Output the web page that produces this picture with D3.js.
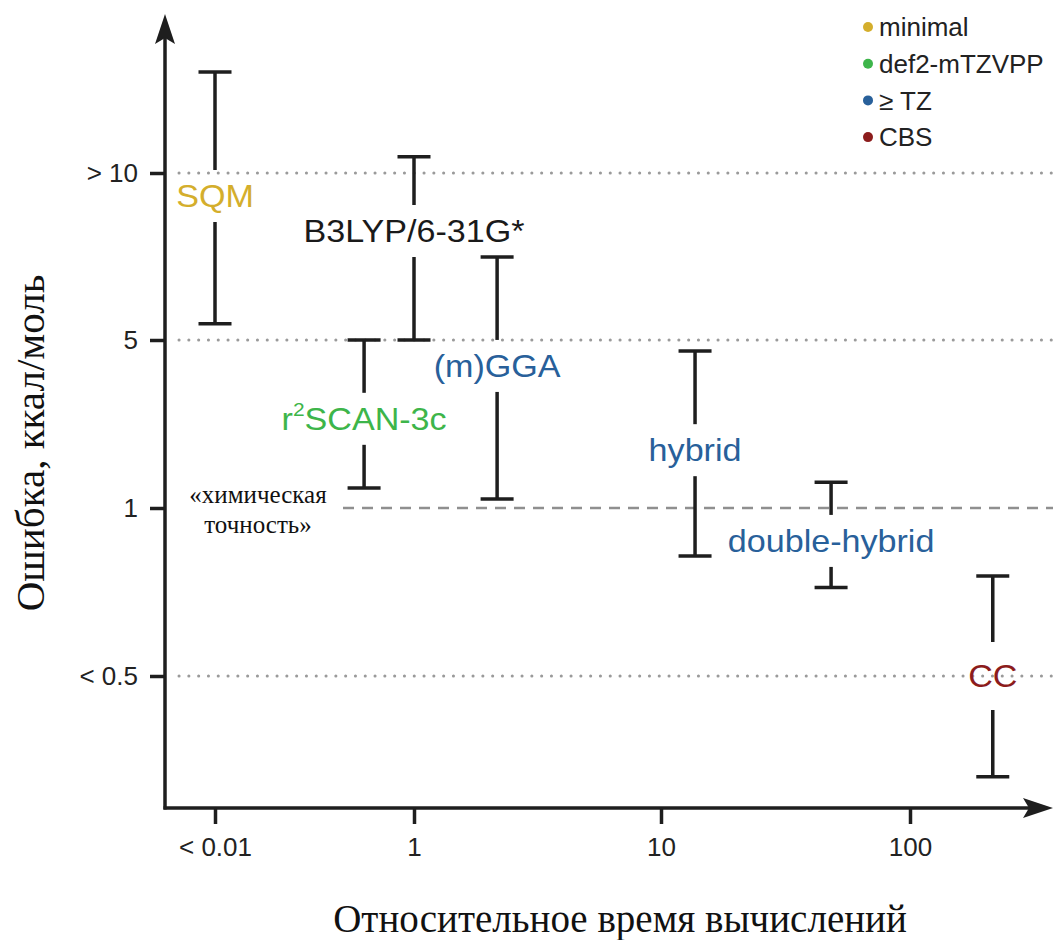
<!DOCTYPE html>
<html>
<head>
<meta charset="utf-8">
<script src="https://cdn.jsdelivr.net/npm/d3@7"></script>
<style>
  body { margin: 0; background: #fff; }
  svg text { font-family: "Liberation Sans", Arial, sans-serif; }
  .serif { font-family: "Liberation Serif", "Times New Roman", serif !important; }
</style>
</head>
<body>
<main></main>
<script>
// Размер
const w = 1053;
const h = 940;

// Данные
const methods = ["SQM", "B3LYP/6-31G*", "r2SCAN-3c", "(m)GGA", "hybrid", "double-hybrid", "CC"];
const basis   = ["minimal", "none", "def2-mTZVPP", "TZ", "TZ", "TZ", "CBS"];
const timeVal = [0.01, 1, 0.315, 2.17, 13.7, 48.2, 215];
const errHigh = [15.2, 10.7, 5.0, 7.06, 4.5, 1.28, 0.755];
const errLow  = [5.35, 5.0, 1.21, 1.09, 0.82, 0.72, 0.33];
const labelAt = [9.09, 7.86, 2.35, 3.9, 1.74, 0.873, 0.5];

const xTicks = [0.01, 1, 10, 100];
const xTickLabels = ["< 0.01", "1", "10", "100"];
const yTicks = [0.5, 1, 5, 10];
const yTickLabels = ["< 0.5", "1", "5", "> 10"];

const legendKeys = ["minimal", "def2-mTZVPP", "TZ", "CBS"];
const legendLabels = ["minimal", "def2-mTZVPP", "\u2265 TZ", "CBS"];

// Цвета
const colors = {
  minimal: "#d4ae2c",
  "def2-mTZVPP": "#3db54a",
  TZ: "#28609a",
  CBS: "#8c1c1c",
  none: "#1a1a1a"
};

const svg = d3.select('main')
  .append('svg')
  .attr('width', w)
  .attr('height', h);

// Шкалы (кусочно-логарифмические)
const x = d3.scaleLog()
  .domain(xTicks)
  .range([215, 414, 661, 910]);

const y = d3.scaleLog()
  .domain(yTicks)
  .range([676, 508, 340, 173]);

const x0 = 165, y0 = 808;
const ink = "#1e1e1e";

// Сетка
svg.selectAll('line.grid')
  .data(yTicks.filter(d => d !== 1))
  .enter()
  .append('line')
  .attr('class', 'grid')
  .attr('x1', x0 + 14)
  .attr('x2', w)
  .attr('y1', d => y(d))
  .attr('y2', d => y(d))
  .attr('stroke', '#9a9a9a')
  .attr('stroke-width', 3)
  .attr('stroke-linecap', 'round')
  .attr('stroke-dasharray', '0.1,9.7');

// «химическая точность»
svg.append('line')
  .attr('x1', 343)
  .attr('x2', w)
  .attr('y1', y(1))
  .attr('y2', y(1))
  .attr('stroke', '#8f8f8f')
  .attr('stroke-width', 2.5)
  .attr('stroke-dasharray', '11,8');

const chem = svg.append('text')
  .attr('class', 'serif')
  .attr('text-anchor', 'middle')
  .attr('font-size', 25)
  .attr('fill', '#111');
chem.append('tspan').attr('x', 258).attr('y', y(1) - 5).text('«химическая');
chem.append('tspan').attr('x', 258).attr('y', y(1) + 25).text('точность»');

// Оси
const yAxis = d3.axisLeft(y)
  .tickValues(yTicks)
  .tickFormat((d, i) => yTickLabels[i])
  .tickSize(15)
  .tickPadding(12);

const gy = svg.append('g')
  .attr('transform', `translate(${x0},0)`)
  .call(yAxis);

const xAxis = d3.axisBottom(x)
  .tickValues(xTicks)
  .tickFormat((d, i) => xTickLabels[i])
  .tickSize(16)
  .tickPadding(14);

const gx = svg.append('g')
  .attr('transform', `translate(0,${y0})`)
  .call(xAxis);

[gx, gy].forEach(g => {
  g.select('.domain').remove();
  g.selectAll('.tick line').attr('stroke', ink).attr('stroke-width', 3.5);
  g.selectAll('.tick text')
    .attr('font-size', 26)
    .attr('font-family', '"Liberation Sans", Arial, sans-serif')
    .attr('fill', '#222');
});

svg.append('line')
  .attr('x1', x0).attr('x2', x0)
  .attr('y1', y0 + 1.5).attr('y2', 30)
  .attr('stroke', ink).attr('stroke-width', 3.5);
svg.append('line')
  .attr('x1', x0 - 1.5).attr('x2', w - 15)
  .attr('y1', y0).attr('y2', y0)
  .attr('stroke', ink).attr('stroke-width', 3.5);

svg.append('path')
  .attr('d', `M${x0},14 L${x0 - 10},44 L${x0},38 L${x0 + 10},44 Z`)
  .attr('fill', ink);
svg.append('path')
  .attr('d', `M${w},${y0} L${w - 30},${y0 - 10} L${w - 24},${y0} L${w - 30},${y0 + 10} Z`)
  .attr('fill', ink);

// Подписи осей
svg.append('text')
  .attr('class', 'serif')
  .attr('transform', `translate(44,443) rotate(-90)`)
  .attr('text-anchor', 'middle')
  .attr('font-size', 41)
  .attr('fill', '#111')
  .text('Ошибка, ккал/моль');

svg.append('text')
  .attr('class', 'serif')
  .attr('x', 620)
  .attr('y', 932)
  .attr('text-anchor', 'middle')
  .attr('font-size', 39)
  .attr('fill', '#111')
  .text('Относительное время вычислений');

// Интервалы ошибок
const capW = 33;
const gap = (d, i) => (methods[i] === "CC" ? 34 : 26);

const bars = svg.selectAll('g.bar')
  .data(methods)
  .enter()
  .append('g')
  .attr('class', 'bar')
  .attr('stroke', ink)
  .attr('stroke-width', 3.5);

bars.append('line')   // верхняя часть
  .attr('x1', (d, i) => x(timeVal[i]))
  .attr('x2', (d, i) => x(timeVal[i]))
  .attr('y1', (d, i) => y(errHigh[i]))
  .attr('y2', (d, i) => y(labelAt[i]) - gap(d, i));

bars.append('line')   // нижняя часть
  .attr('x1', (d, i) => x(timeVal[i]))
  .attr('x2', (d, i) => x(timeVal[i]))
  .attr('y1', (d, i) => y(labelAt[i]) + gap(d, i))
  .attr('y2', (d, i) => y(errLow[i]));

bars.append('line')
  .attr('x1', (d, i) => x(timeVal[i]) - capW / 2)
  .attr('x2', (d, i) => x(timeVal[i]) + capW / 2)
  .attr('y1', (d, i) => y(errHigh[i]))
  .attr('y2', (d, i) => y(errHigh[i]));

bars.append('line')
  .attr('x1', (d, i) => x(timeVal[i]) - capW / 2)
  .attr('x2', (d, i) => x(timeVal[i]) + capW / 2)
  .attr('y1', (d, i) => y(errLow[i]))
  .attr('y2', (d, i) => y(errLow[i]));

// Подписи методов
const labels = svg.selectAll('text.method')
  .data(methods)
  .enter()
  .append('text')
  .attr('class', 'method')
  .attr('transform', (d, i) => `translate(${x(timeVal[i])},${y(labelAt[i])}) scale(1.1,1)`)
  .attr('text-anchor', 'middle')
  .attr('dy', '0.36em')
  .attr('font-size', 31)
  .attr('fill', (d, i) => colors[basis[i]]);

labels.each(function (d) {
  const t = d3.select(this);
  if (d.startsWith('r2')) {
    t.append('tspan').text('r');
    t.append('tspan').attr('font-size', 19).attr('dy', '-0.75em').text('2');
    t.append('tspan').attr('dy', '0.45em').text('SCAN-3c');
  } else {
    t.text(d);
  }
});

// Легенда
const legend = svg.selectAll('g.legend')
  .data(legendKeys)
  .enter()
  .append('g')
  .attr('class', 'legend')
  .attr('transform', (d, i) => `translate(868,${27 + i * 36.7})`);

legend.append('circle')
  .attr('r', 5)
  .attr('fill', d => colors[d]);

legend.append('text')
  .attr('x', 11)
  .attr('dy', '0.36em')
  .attr('font-size', 26)
  .attr('fill', '#222')
  .text((d, i) => legendLabels[i]);
</script>
</body>
</html>
